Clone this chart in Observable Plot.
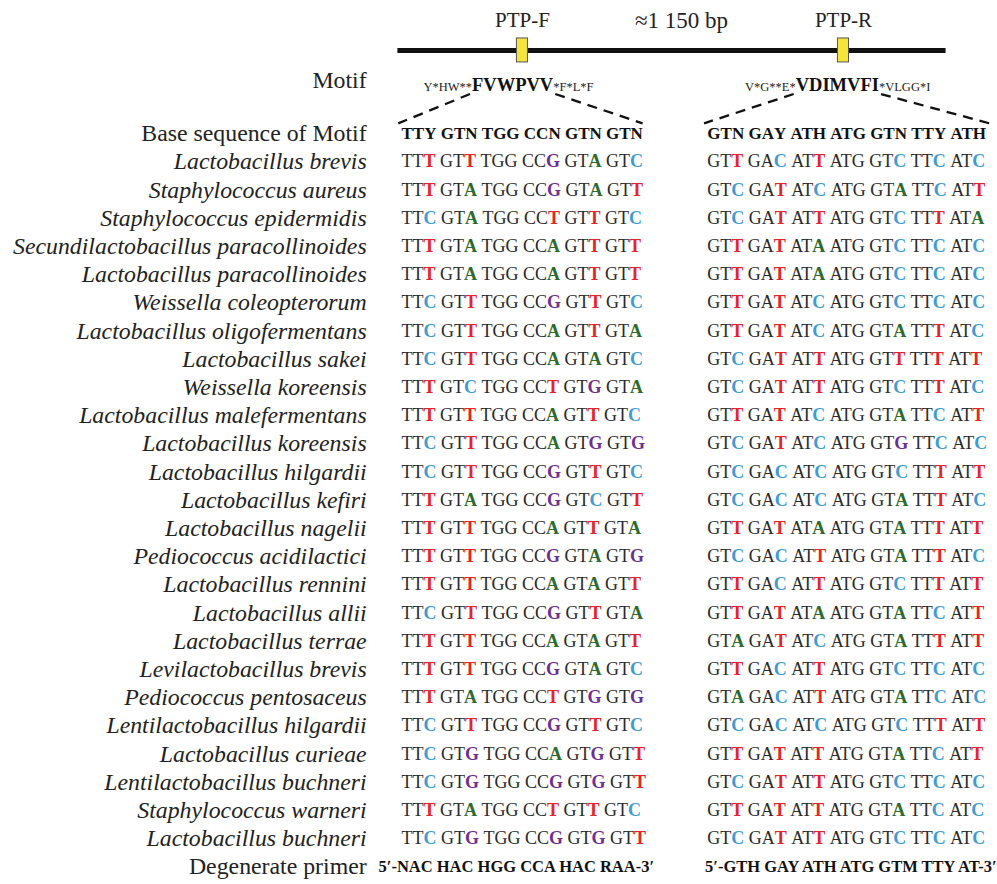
<!DOCTYPE html>
<html><head><meta charset="utf-8">
<script src="https://cdn.jsdelivr.net/npm/d3@7"></script>
<script src="https://cdn.jsdelivr.net/npm/@observablehq/plot@0.6"></script>
<style>body{margin:0;background:#fff} #chart svg{display:block} #chart svg text{font-family:"Liberation Serif","Times New Roman","DejaVu Serif",serif}</style>
</head><body><div id="chart"></div>
<script>
// ---------------- data ----------------
const species = [
  "Lactobacillus brevis","Staphylococcus aureus","Staphylococcus epidermidis",
  "Secundilactobacillus paracollinoides","Lactobacillus paracollinoides","Weissella coleopterorum",
  "Lactobacillus oligofermentans","Lactobacillus sakei","Weissella koreensis",
  "Lactobacillus malefermentans","Lactobacillus koreensis","Lactobacillus hilgardii",
  "Lactobacillus kefiri","Lactobacillus nagelii","Pediococcus acidilactici",
  "Lactobacillus rennini","Lactobacillus allii","Lactobacillus terrae",
  "Levilactobacillus brevis","Pediococcus pentosaceus","Lentilactobacillus hilgardii",
  "Lactobacillus curieae","Lentilactobacillus buchneri","Staphylococcus warneri",
  "Lactobacillus buchneri"
];
const seqF = [
  "TTT GTT TGG CCG GTA GTC","TTT GTA TGG CCG GTA GTT","TTC GTA TGG CCT GTT GTC",
  "TTT GTA TGG CCA GTT GTT","TTT GTA TGG CCA GTT GTT","TTC GTT TGG CCG GTT GTC",
  "TTC GTT TGG CCA GTT GTA","TTC GTT TGG CCA GTA GTC","TTT GTC TGG CCT GTG GTA",
  "TTT GTT TGG CCA GTT GTC","TTC GTT TGG CCA GTG GTG","TTC GTT TGG CCG GTT GTC",
  "TTT GTA TGG CCG GTC GTT","TTT GTT TGG CCA GTT GTA","TTT GTT TGG CCG GTA GTG",
  "TTT GTT TGG CCA GTA GTT","TTC GTT TGG CCG GTT GTA","TTT GTT TGG CCA GTA GTT",
  "TTT GTT TGG CCG GTA GTC","TTT GTA TGG CCT GTG GTG","TTC GTT TGG CCG GTT GTC",
  "TTC GTG TGG CCA GTG GTT","TTC GTG TGG CCG GTG GTT","TTT GTA TGG CCT GTT GTC",
  "TTC GTG TGG CCG GTG GTT"
];
const seqR = [
  "GTT GAC ATT ATG GTC TTC ATC","GTC GAT ATC ATG GTA TTC ATT","GTC GAT ATT ATG GTC TTT ATA",
  "GTT GAT ATA ATG GTC TTC ATC","GTT GAT ATA ATG GTC TTC ATC","GTT GAT ATC ATG GTC TTC ATC",
  "GTT GAT ATC ATG GTA TTT ATC","GTC GAT ATT ATG GTT TTT ATT","GTC GAT ATT ATG GTC TTT ATC",
  "GTT GAT ATC ATG GTA TTC ATT","GTC GAT ATC ATG GTG TTC ATC","GTC GAC ATC ATG GTC TTT ATT",
  "GTC GAC ATC ATG GTA TTT ATC","GTT GAT ATA ATG GTA TTT ATT","GTC GAC ATT ATG GTA TTT ATC",
  "GTT GAC ATT ATG GTC TTT ATT","GTT GAT ATA ATG GTA TTC ATT","GTA GAT ATC ATG GTA TTT ATT",
  "GTT GAC ATT ATG GTC TTC ATC","GTA GAC ATT ATG GTA TTC ATC","GTC GAC ATC ATG GTC TTT ATT",
  "GTT GAT ATT ATG GTA TTC ATT","GTC GAT ATT ATG GTC TTC ATC","GTT GAT ATT ATG GTA TTC ATC",
  "GTC GAT ATT ATG GTC TTC ATC"
];
const baseF = "TTY GTN TGG CCN GTN GTN";
const baseR = "GTN GAY ATH ATG GTN TTY ATH";
const primerF = "5′-NAC HAC HGG CCA HAC RAA-3′";
const primerR = "5′-GTH GAY ATH ATG GTM TTY AT-3′";
const motifF = ["Y*HW**", "FVWPVV", "*F*L*F"];
const motifR = ["V*G**E*", "VDIMVFI", "*VLGG*I"];
const primerNames = ["PTP-F", "PTP-R"];
const ampliconLabel = "≈1 150 bp";
const headLabels = ["Motif", "Base sequence of Motif", "Degenerate primer"];
const baseColors = {T: "#e2262a", C: "#3f9bd3", A: "#2d6a2b", G: "#6d2f91"};

// ---------------- layout (scale units) ----------------
const W = 997, H = 884;
const PITCH = 41, X0 = 401;          // px per codon unit, left column start
const ROW = 28.2, Y0 = 133;          // px per row unit, first row centre
const colStart = {F: 0, R: 7.46};
const conservedIdx = {F: 2, R: 3};
const FONT = `"Liberation Serif", "Times New Roman", "DejaVu Serif", serif`;
const seqSize = 18, headSize = 17, labelSize = 23.8;

const ctx = document.createElement("canvas").getContext("2d");
const tw = (s, font) => { ctx.font = font; return ctx.measureText(s).width / PITCH; };
const fnt = (bold, size) => `${bold ? "bold " : ""}${size}px "Liberation Serif"`;

const codons = [];
function addRow(r, seq, side, kind) {
  const size = kind === "head" ? headSize : seqSize;
  let x = colStart[side];
  const sp = tw(" ", fnt(kind === "head", size));
  seq.split(" ").forEach((c, k) => {
    const conserved = k === conservedIdx[side];
    const pre = c.slice(0, 2), last = c[2];
    const preW = tw(pre, fnt(kind === "head", size));
    const lastW = tw(last, fnt(kind === "head" || !conserved, size));
    codons.push({r, side, k, kind, pre, last, conserved, x: x + preW});
    x += preW + lastW + sp;
  });
}
addRow(0, baseF, "F", "head"); addRow(0, baseR, "R", "head");
species.forEach((s, i) => { addRow(i + 1, seqF[i], "F", "sp"); addRow(i + 1, seqR[i], "R", "sp"); });
const head = codons.filter(d => d.kind === "head");
const sp = codons.filter(d => d.kind === "sp");

const labels = [
  {t: headLabels[0], r: -1.88, it: false},
  {t: headLabels[1], r: 0, it: false},
  ...species.map((s, i) => ({t: s, r: i + 1, it: true})),
  {t: headLabels[2], r: species.length + 1, it: false}
];
const labelX = -0.85;

// primers
const primers = [
  {t: primerF, x: colStart.F + 2.8, r: species.length + 1},
  {t: primerR, x: colStart.R + 3.5, r: species.length + 1}
];

// motif
const boldFont = `bold 18.5px "Liberation Serif"`;
const motifRow = -1.5;
const motifs = [
  {parts: motifF, c: 2.71, side: "F", n: 6},
  {parts: motifR, c: 10.63, side: "R", n: 7}
].map(m => {
  const w = tw(m.parts[1], boldFont);
  return {...m, l: m.c - w / 2, rr: m.c + w / 2};
});
const dashes = [];
motifs.forEach(m => {
  const s = colStart[m.side];
  dashes.push({x1: m.l - 0.05, y1: -1.4, x2: s - 0.08, y2: -0.36});
  dashes.push({x1: m.rr + 0.05, y1: -1.4, x2: s + m.n - 0.12, y2: -0.36});
});

// top gene diagram
const geneLine = [{x1: -0.1, x2: 13.27, r: -2.94}];
const boxes = [{c: 2.95, t: primerNames[0]}, {c: 10.78, t: primerNames[1]}];
const topTexts = [...boxes.map(b => ({t: b.t, x: b.c, s: 21})), {t: ampliconLabel, x: 6.83, s: 23}];

const chart = Plot.plot({
  width: W, height: H, margin: 0,
  x: {type: "linear", domain: [-X0 / PITCH, (W - X0) / PITCH], axis: null},
  y: {type: "linear", domain: [-Y0 / ROW, (H - Y0) / ROW], reverse: true, axis: null},
  style: {fontFamily: FONT, background: "#fff"},
  marks: [
    // gene diagram
    Plot.link(geneLine, {x1: "x1", x2: "x2", y1: "r", y2: "r", stroke: "#111", strokeWidth: 5}),
    Plot.rect(boxes, {x1: d => d.c - 0.135, x2: d => d.c + 0.135, y1: -3.37, y2: -2.52, fill: "#f3e53a", stroke: "#555", strokeWidth: 1}),
    Plot.text(topTexts.slice(0, 2), {x: "x", y: -4.0, text: "t", fontSize: 21, fontFamily: FONT, fill: "#222"}),
    Plot.text(topTexts.slice(2), {x: "x", y: -4.0, text: "t", fontSize: 23, fontFamily: FONT, fill: "#222"}),
    // row labels
    Plot.text(labels.filter(d => d.it), {x: labelX, y: "r", text: "t", textAnchor: "end", fontSize: labelSize, fontStyle: "italic", fontFamily: FONT, fill: "#222"}),
    Plot.text(labels.filter(d => !d.it), {x: labelX, y: "r", text: "t", textAnchor: "end", fontSize: labelSize, fontFamily: FONT, fill: "#222"}),
    // motif
    Plot.text(motifs, {x: "c", y: motifRow, text: d => d.parts[1], lineAnchor: "bottom", fontSize: 18.5, fontWeight: "bold", fontFamily: FONT, fill: "#111"}),
    Plot.text(motifs, {x: "l", y: motifRow, text: d => d.parts[0], textAnchor: "end", lineAnchor: "bottom", fontSize: 12.5, fontFamily: FONT, fill: "#222"}),
    Plot.text(motifs, {x: "rr", y: motifRow, text: d => d.parts[2], textAnchor: "start", lineAnchor: "bottom", fontSize: 12.5, fontFamily: FONT, fill: "#222"}),
    Plot.link(dashes, {x1: "x1", y1: "y1", x2: "x2", y2: "y2", stroke: "#111", strokeWidth: 2.3, strokeDasharray: "10,7"}),
    // base sequence header
    Plot.text(head, {x: "x", y: "r", text: "pre", textAnchor: "end", fontSize: headSize, fontWeight: "bold", fontFamily: FONT, fill: "#111"}),
    Plot.text(head, {x: "x", y: "r", text: "last", textAnchor: "start", fontSize: headSize, fontWeight: "bold", fontFamily: FONT, fill: "#111"}),
    // species sequences
    Plot.text(sp, {x: "x", y: "r", text: "pre", textAnchor: "end", fontSize: seqSize, fontFamily: FONT, fill: "#2a2a2a"}),
    Plot.text(sp.filter(d => d.conserved), {x: "x", y: "r", text: "last", textAnchor: "start", fontSize: seqSize, fontFamily: FONT, fill: "#2a2a2a"}),
    Plot.text(sp.filter(d => !d.conserved), {x: "x", y: "r", text: "last", textAnchor: "start", fontSize: seqSize, fontWeight: "bold", fontFamily: FONT, fill: d => baseColors[d.last]}),
    // degenerate primers
    Plot.text(primers, {x: "x", y: "r", text: "t", fontSize: 16.5, fontWeight: "bold", fontFamily: FONT, fill: "#111"})
  ]
});
document.getElementById("chart").append(chart);
</script>
</body></html>
